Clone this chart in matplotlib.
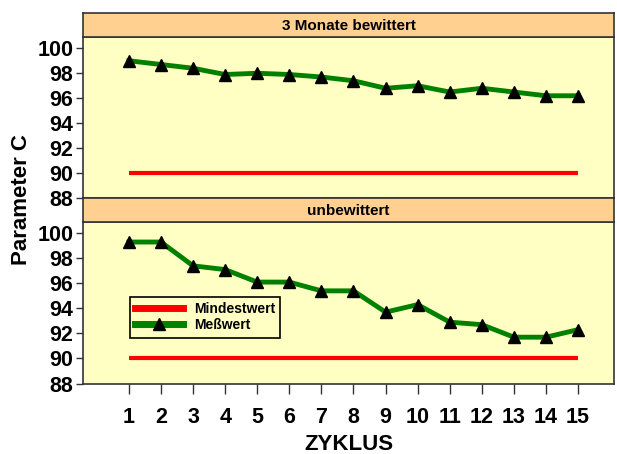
import matplotlib
matplotlib.use("Agg")
import matplotlib.pyplot as plt
from matplotlib.lines import Line2D

plt.rcParams["font.family"] = ["Liberation Sans", "DejaVu Sans"]
plt.rcParams["font.weight"] = "bold"

zyklus = list(range(1, 16))
bewittert = [99.0, 98.7, 98.4, 97.9, 98.0, 97.9, 97.7, 97.4, 96.8, 97.0, 96.5, 96.8, 96.5, 96.2, 96.2]
unbewittert = [99.3, 99.3, 97.4, 97.1, 96.1, 96.1, 95.4, 95.4, 93.7, 94.3, 92.9, 92.7, 91.7, 91.7, 92.3]
mindestwert = 90
panel_titles = ["3 Monate bewittert", "unbewittert"]
yticks = [88, 90, 92, 94, 96, 98, 100]

bg = "#FFFFC4"
strip_col = "#FFD08F"
frame = "#333333"

fig = plt.figure(figsize=(6.17, 4.54), dpi=100)
W, H = 617, 454
left, right = 83 / W, 614 / W

# (plot top, plot bottom, strip top) in pixels
panels = [(37, 198.3, 13), (222, 383.5, 198.3)]
axes = []
for (ptop, pbot, stop), title, vals in zip(panels, panel_titles, [bewittert, unbewittert]):
    ax = fig.add_axes([left, 1 - pbot / H, right - left, (pbot - ptop) / H])
    sax = fig.add_axes([left, 1 - ptop / H, right - left, (ptop - stop) / H])
    sax.set_facecolor(strip_col)
    sax.set_xticks([])
    sax.set_yticks([])
    for s in sax.spines.values():
        s.set_color(frame)
        s.set_linewidth(1.2)
    sax.text(0.5, 0.45, title, ha="center", va="center", fontsize=11,
             fontweight="bold", transform=sax.transAxes)

    ax.set_facecolor(bg)
    ax.plot([zyklus[0], zyklus[-1]], [mindestwert, mindestwert], color="#FF0000", lw=3, solid_capstyle="butt")
    ax.plot(zyklus, vals, color="#008000", lw=3.5, marker="^", markersize=9,
            markerfacecolor="black", markeredgecolor="black")
    ax.set_xlim(-0.43, 16.12)
    ax.set_ylim(88, 100.9)
    ax.set_yticks(yticks)
    ax.set_yticklabels([str(v) for v in yticks], fontsize=15.5, fontweight="bold")
    ax.tick_params(axis="y", length=5, width=1, color=frame, pad=2)
    for s in ax.spines.values():
        s.set_color(frame)
        s.set_linewidth(1.2)
    axes.append(ax)

axes[0].set_xticks([])
axes[1].set_xticks(zyklus)
axes[1].set_xticklabels([str(z) for z in zyklus], fontsize=15.5, fontweight="bold")
axes[1].tick_params(axis="x", length=7, width=1, color=frame, pad=10)
axes[1].set_xlabel("ZYKLUS", fontsize=16, fontweight="bold", labelpad=4)

fig.text(0.035, 0.56, "Parameter C", rotation=90, ha="center", va="center",
         fontsize=16, fontweight="bold")

handles = [
    Line2D([], [], color="#FF0000", lw=5),
    Line2D([], [], color="#008000", lw=5, marker="^", markersize=9,
           markerfacecolor="black", markeredgecolor="black"),
]
leg = axes[1].legend(handles, ["Mindestwert", "Meßwert"], loc="lower left",
                     bbox_to_anchor=(0.075, 0.24), frameon=True,
                     fancybox=False, edgecolor="black", facecolor=bg, framealpha=1,
                     handlelength=3.4, borderpad=0.4, labelspacing=0.15,
                     prop={"weight": "bold", "size": 10})
leg.get_frame().set_linewidth(1.2)

fig.savefig("out.png", dpi=100)
